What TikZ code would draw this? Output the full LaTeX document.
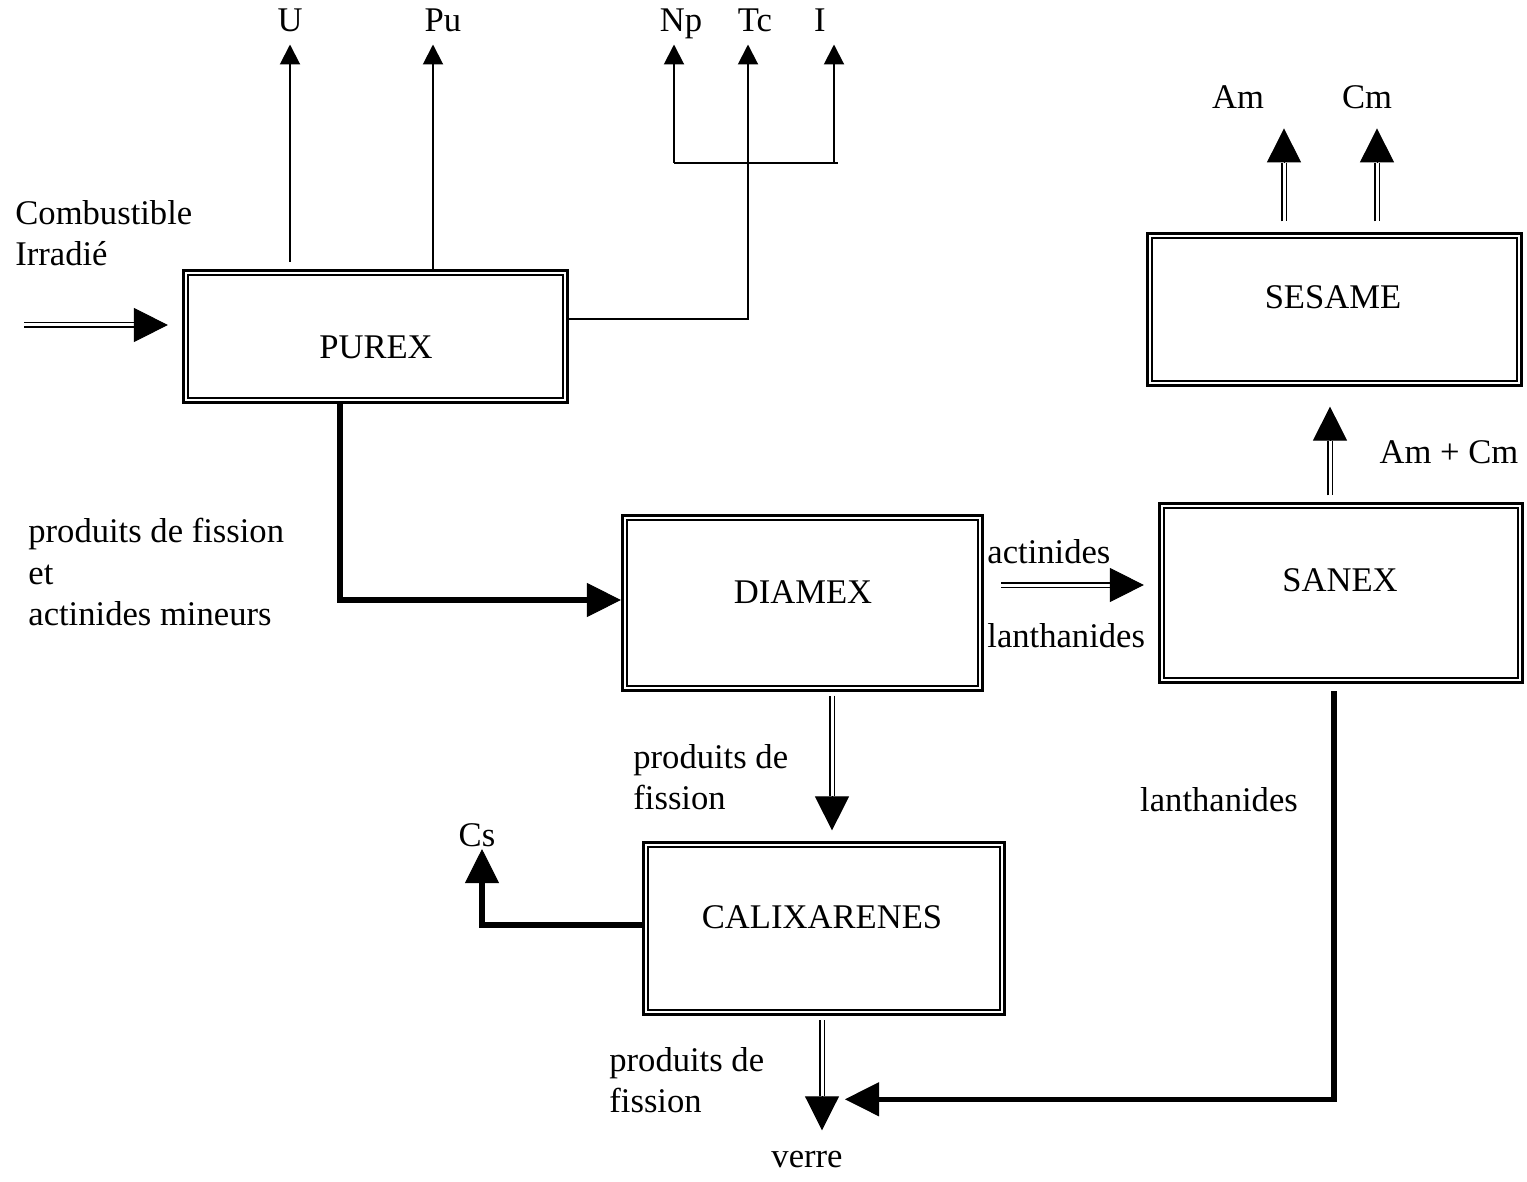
\documentclass[tikz,border=0pt]{standalone}
\usepackage{fontspec}
\setmainfont{Liberation Serif}
\usetikzlibrary{arrows.meta,calc}
\tikzset{
  box/.style={draw, line width=1.5pt, inner sep=0pt},
  inbox/.style={line width=0.8pt},
  lbl/.style={inner sep=0pt, font=\fontsize{17.3}{20.8}\selectfont},
  thinln/.style={line width=1pt},
  smallhead/.style={-{Triangle[length=10pt,width=10pt]}},
  thickln/.style={line width=2.7pt},
  bighead/.style={-{Triangle[length=17pt,width=17pt]}, line width=0.5pt},
  dblshaft/.style={double, double distance=1.5pt, line width=0.9pt},
}
\newcommand\dblarrow[3]{\draw[dblshaft] #1 -- #2; \draw[bighead] #2 -- #3;}
\begin{document}
\begin{tikzpicture}[x=0.5pt, y=-0.5pt]
\useasboundingbox (0,0) rectangle (1527,1182);
% boxes
\node[box, minimum width=192.1pt, minimum height=66.1pt] (purex) at (375.5,336.5) {};
\node[box, minimum width=180.1pt, minimum height=87.6pt] (diamex) at (802.5,603) {};
\node[box, minimum width=181.6pt, minimum height=89.6pt] (sanex) at (1341,593) {};
\node[box, minimum width=187.1pt, minimum height=76.1pt] (sesame) at (1334.5,309.5) {};
\node[box, minimum width=180.6pt, minimum height=86.1pt] (calix) at (824,928.5) {};
\foreach \n in {purex,diamex,sanex,sesame,calix}
  \draw[inbox] ([shift={(3.1pt,-3.1pt)}]\n.north west) rectangle ([shift={(-3.1pt,3.1pt)}]\n.south east);
% box texts
\node[lbl] (purext) at (376,347) {PUREX};
\node[lbl] (diamext) at (803,592) {DIAMEX};
\node[lbl] (sanext) at (1340,580) {SANEX};
\node[lbl] (sesamet) at (1333,297) {SESAME};
\node[lbl] (calixt) at (822,917) {CALIXARENES};
% labels
\node[lbl, anchor=west, align=left] (comb) at (15,233) {Combustible\\Irradié};
\node[lbl, anchor=base] (U) at (290,31.5) {U};
\node[lbl, anchor=base] (Pu) at (443,31.5) {Pu};
\node[lbl, anchor=base] (Np) at (681,31.5) {Np};
\node[lbl, anchor=base] (Tc) at (755,31.5) {Tc};
\node[lbl, anchor=base] (I) at (820,31.5) {I};
\node[lbl] (Am) at (1238,97) {Am};
\node[lbl] (Cm) at (1367,97) {Cm};
\node[lbl] (amcm) at (1449,452) {Am + Cm};
\node[lbl, anchor=west, align=left] (pfam) at (28,572) {produits de fission\\et\\actinides mineurs};
\node[lbl, anchor=west] (act) at (987,552) {actinides};
\node[lbl, anchor=west] (lan1) at (987,636) {lanthanides};
\node[lbl, anchor=west, align=left] (pf1) at (633,777) {produits de\\fission};
\node[lbl] (lan2) at (1219,800) {lanthanides};
\node[lbl] (Cs) at (477,835) {Cs};
\node[lbl, anchor=west, align=left] (pf2) at (609,1080) {produits de\\fission};
\node[lbl] (verre) at (807,1160) {verre};
% input
\coordinate (src) at (24,325);
\dblarrow{(src)}{($(purex.west)+(-48,-11.5)$)}{($(purex.west)+(-14,-11.5)$)}
% U, Pu
\draw[thinln, smallhead] ($(purex.north)+(-85.5,-7)$) -- ($(U.base)+(0,13)$);
\draw[thinln, smallhead] ($(purex.north)+(57.5,0)$) -- ($(Pu.base)+(-10,13)$);
% fork Np Tc I
\coordinate (fork) at (748,163);
\coordinate (forkL) at (674,163);
\coordinate (forkR) at (838,163);
\coordinate (forkI) at (834,163);
\draw[thinln] ($(purex.east)+(0,-17.5)$) -| (fork);
\draw[thinln] (forkL) -- (forkR);
\draw[thinln, smallhead] (forkL) -- ($(Np.base)+(-7,13)$);
\draw[thinln, smallhead] (fork) -- ($(Tc.base)+(-7,13)$);
\draw[thinln, smallhead] (forkI) -- ($(I.base)+(14,13)$);
% PUREX -> DIAMEX
\draw[thickln] ($(purex.south)+(-35.5,0)$) |- ($(diamex.west)+(-34,-3)$);
\draw[bighead] ($(diamex.west)+(-34,-3)$) -- ($(diamex.west)+(0,-3)$);
% DIAMEX -> SANEX
\dblarrow{($(diamex.east)+(17,-18)$)}{($(sanex.west)+(-48,-8)$)}{($(sanex.west)+(-14,-8)$)}
% DIAMEX -> CALIX
\dblarrow{($(diamex.south)+(29.5,3.5)$)}{($(calix.north)+(8,-44.5)$)}{($(calix.north)+(8,-10.5)$)}
% CALIX -> Cs
\draw[thickln] ($(calix.west)+(0,-3.5)$) -| ($(Cs.south)+(5,36)$);
\draw[bighead] ($(Cs.south)+(5,36)$) -- ($(Cs.south)+(5,2)$);
% CALIX -> verre
\dblarrow{($(calix.south)+(-2,4)$)}{($(verre.north)+(15,-55)$)}{($(verre.north)+(15,-21)$)}
% SANEX -> verre
\draw[thickln] ($(sanex.south)+(-7,7)$) |- ($(verre.north)+(72,-52)$);
\draw[bighead] ($(verre.north)+(72,-52)$) -- ($(verre.north)+(38,-52)$);
% SANEX -> SESAME
\dblarrow{($(sanex.north)+(-11,-6.5)$)}{($(sesame.south)+(-4.5,53.5)$)}{($(sesame.south)+(-4.5,19.5)$)}
% SESAME -> Am, Cm
\dblarrow{($(sesame.north)+(-50.5,-10.5)$)}{($(sesame.north)+(-50.5,-68.5)$)}{($(sesame.north)+(-50.5,-103.5)$)}
\dblarrow{($(sesame.north)+(42.5,-10.5)$)}{($(sesame.north)+(42.5,-68.5)$)}{($(sesame.north)+(42.5,-103.5)$)}
\end{tikzpicture}
\end{document}
